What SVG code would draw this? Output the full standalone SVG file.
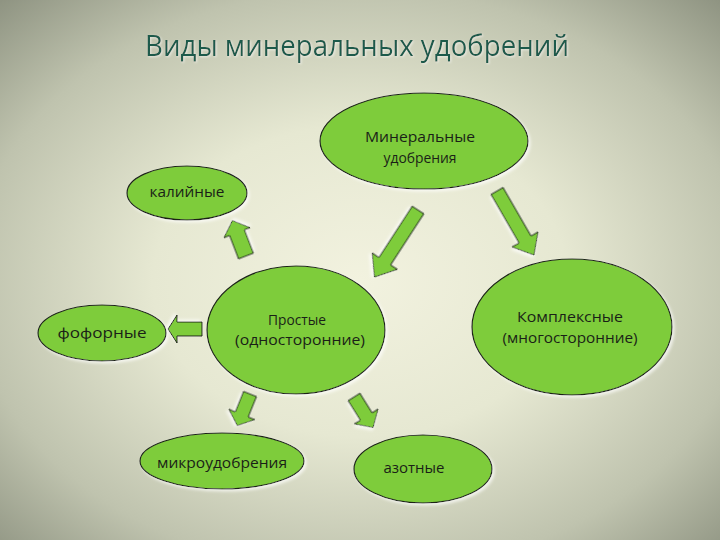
<svg xmlns="http://www.w3.org/2000/svg" width="720" height="540" viewBox="0 0 720 540">
<defs>
<radialGradient id="bg" cx="50%" cy="52%" r="72%">
<stop offset="0" stop-color="#f2f2df"/>
<stop offset="0.4" stop-color="#e6e8d2"/>
<stop offset="0.75" stop-color="#bfc3ae"/>
<stop offset="1" stop-color="#8f9482"/>
</radialGradient>
<filter id="sh" x="-20%" y="-20%" width="140%" height="140%">
<feDropShadow dx="2" dy="2" stdDeviation="1.5" flood-color="#ffffff" flood-opacity="0.7"/>
</filter>
<filter id="tsh" x="-5%" y="-20%" width="110%" height="140%">
<feDropShadow dx="1" dy="1" stdDeviation="1" flood-color="#ffffff" flood-opacity="0.6"/>
</filter>
</defs>
<style>
.node ellipse{fill:#7ecc3a;stroke:#1c2418;stroke-width:1.2;filter:url(#sh)}
.node text{font-family:"Open Sans","Liberation Sans",sans-serif;font-size:15px;fill:#1a1f17;text-anchor:middle}
.arr path{fill:#7ecc3a;stroke:#1c2418;stroke-width:1;filter:url(#sh)}
.title{font-family:"Open Sans","Liberation Sans",sans-serif;font-size:29px;fill:#1d5a4b;text-anchor:middle;filter:url(#tsh)}
</style>
<rect width="720" height="540" fill="url(#bg)"/>
<text class="title" x="357" y="56" textLength="424" lengthAdjust="spacingAndGlyphs">Виды минеральных удобрений</text>

<g id="connectors" class="arr">
<path transform="translate(418,210) rotate(123)" d="M0,-7 L61,-7 L61,-15 L80,0 L61,15 L61,7 L0,7 Z"/>
<path transform="translate(497,191) rotate(60)" d="M0,-7 L56,-7 L56,-15 L74,0 L56,15 L56,7 L0,7 Z"/>
<path transform="translate(246,256) rotate(-111)" d="M0,-8 L25,-8 L25,-14 L38,0 L25,14 L25,8 L0,8 Z"/>
<path transform="translate(202,329) rotate(180)" d="M0,-7 L25,-7 L25,-14 L34,0 L25,14 L25,7 L0,7 Z"/>
<path transform="translate(250,394) rotate(112)" d="M0,-7 L22,-7 L22,-14 L34,0 L22,14 L22,7 L0,7 Z"/>
<path transform="translate(354,397) rotate(58)" d="M0,-7 L23,-7 L23,-14 L36,0 L23,14 L23,7 L0,7 Z"/>
</g>

<g id="mineral" class="node">
<ellipse cx="424" cy="141" rx="104" ry="48"/>
<text x="420" y="142" textLength="110" lengthAdjust="spacingAndGlyphs">Минеральные</text>
<text x="420" y="163" textLength="73" lengthAdjust="spacingAndGlyphs">удобрения</text>
</g>
<g id="kaliy" class="node">
<ellipse cx="187" cy="193" rx="60" ry="27"/>
<text x="187" y="197" textLength="75" lengthAdjust="spacingAndGlyphs">калийные</text>
</g>
<g id="fosfor" class="node">
<ellipse cx="102" cy="333" rx="64" ry="28"/>
<text x="102" y="338" textLength="89" lengthAdjust="spacingAndGlyphs">фофорные</text>
</g>
<g id="prostye" class="node">
<ellipse cx="296" cy="330" rx="89" ry="64"/>
<text x="297" y="325" textLength="58" lengthAdjust="spacingAndGlyphs">Простые</text>
<text x="300" y="345" textLength="130" lengthAdjust="spacingAndGlyphs">(односторонние)</text>
</g>
<g id="kompleks" class="node">
<ellipse cx="572" cy="327" rx="100" ry="68"/>
<text x="570" y="322" textLength="106" lengthAdjust="spacingAndGlyphs">Комплексные</text>
<text x="570" y="343" textLength="135" lengthAdjust="spacingAndGlyphs">(многосторонние)</text>
</g>
<g id="mikro" class="node">
<ellipse cx="222" cy="461" rx="82" ry="28"/>
<text x="222" y="468" textLength="130" lengthAdjust="spacingAndGlyphs">микроудобрения</text>
</g>
<g id="azot" class="node">
<ellipse cx="423" cy="469" rx="69" ry="34"/>
<text x="414" y="473" textLength="61" lengthAdjust="spacingAndGlyphs">азотные</text>
</g>
</svg>
